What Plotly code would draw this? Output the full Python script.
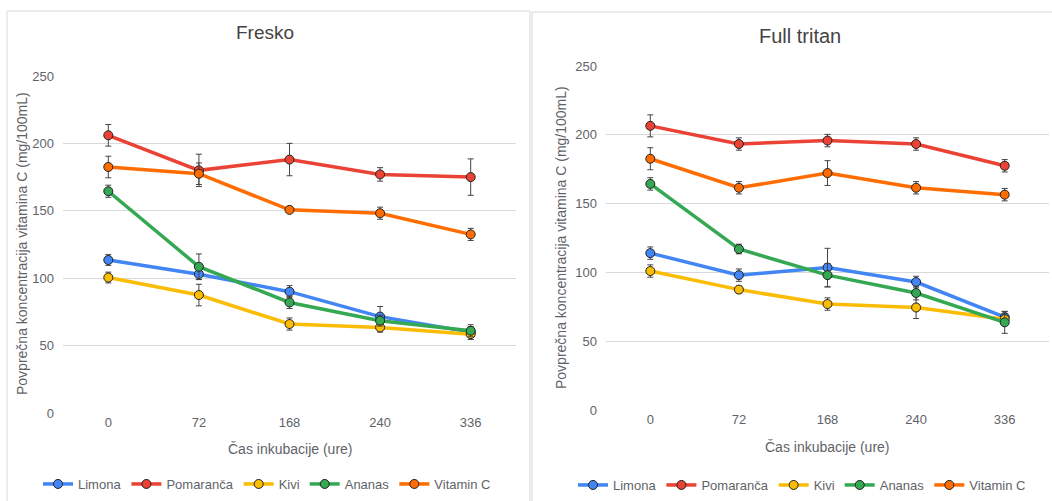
import plotly.graph_objects as go

W, H = 1052, 501

categories = ["0", "72", "168", "240", "336"]
series_names = ["Limona", "Pomaranča", "Kivi", "Ananas", "Vitamin C"]
colors = ["#4285F4", "#EA4335", "#FBBC04", "#34A853", "#FF6D01"]

# Fresko
fresko_limona = [113.5, 103, 90, 71.5, 60]
fresko_pomaranca = [206, 180, 188, 177, 175]
fresko_kivi = [100.5, 87.5, 66, 63.5, 58.5]
fresko_ananas = [164.5, 108.5, 82, 68.5, 61]
fresko_vitc = [182.5, 177.5, 150.7, 148.2, 132.5]
fresko_limona_err = [4, 4, 4.5, 7.5, 4]
fresko_pomaranca_err = [8, 12, 12, 5, 13.5]
fresko_kivi_err = [4, 8, 4.5, 3.5, 4]
fresko_ananas_err = [4.5, 9.5, 4.5, 4, 4.5]
fresko_vitc_err = [8, 8, 2, 4.5, 4.5]

# Full tritan
tritan_limona = [114, 98, 103.5, 93, 67.5]
tritan_pomaranca = [206.5, 193.3, 195.8, 193.3, 177.5]
tritan_kivi = [101, 87.5, 77, 74.5, 66]
tritan_ananas = [164.3, 117, 98, 85, 63.7]
tritan_vitc = [182.6, 161.5, 172.2, 161.5, 156.5]
tritan_limona_err = [4.5, 4.5, 14, 4.2, 4]
tritan_pomaranca_err = [8, 4.5, 4.5, 4.5, 4.5]
tritan_kivi_err = [4.5, 2.5, 4.5, 8, 4]
tritan_ananas_err = [4.5, 3.5, 8.5, 5, 8]
tritan_vitc_err = [8, 4.5, 9, 4.5, 4.5]

y_ticks = [0, 50, 100, 150, 200, 250]

panel_titles = ["Fresko", "Full tritan"]
x_title = "Čas inkubacije (ure)"
y_title = "Povprečna koncentracija vitamina C (mg/100mL)"

fresko = [(fresko_limona, fresko_limona_err), (fresko_pomaranca, fresko_pomaranca_err),
          (fresko_kivi, fresko_kivi_err), (fresko_ananas, fresko_ananas_err),
          (fresko_vitc, fresko_vitc_err)]
tritan = [(tritan_limona, tritan_limona_err), (tritan_pomaranca, tritan_pomaranca_err),
          (tritan_kivi, tritan_kivi_err), (tritan_ananas, tritan_ananas_err),
          (tritan_vitc, tritan_vitc_err)]

FONT = "Liberation Sans, Arial, sans-serif"
TXT = "#5f6368"
GRID = "#d9d9d9"

fig = go.Figure()

for panel, (data, xa, ya, lg) in enumerate([(fresko, "x", "y", "legend"), (tritan, "x2", "y2", "legend2")]):
    for name, color, (vals, errs) in zip(series_names, colors, data):
        fig.add_trace(go.Scatter(
            x=categories, y=vals, name=name, mode="lines+markers",
            xaxis=xa, yaxis=ya, legend=lg,
            line=dict(color=color, width=3.5),
            marker=dict(color=color, size=9, line=dict(color="#222222", width=1)),
            error_y=dict(type="data", array=errs, visible=True, color="#444444", thickness=1, width=3),
        ))

def px2x(p):
    return p / W

def px2y(p):
    return 1 - p / H

axis_common = dict(type="category", range=[-0.5, 4.5], showgrid=False, zeroline=False, showline=False,
                   ticks="", tickfont=dict(family=FONT, size=13, color=TXT))
yaxis_common = dict(range=[0, 250], tickvals=y_ticks, showgrid=True, gridcolor=GRID, gridwidth=1,
                    zeroline=False, showline=False, ticks="", ticklabelstandoff=8,
                    tickfont=dict(family=FONT, size=13, color=TXT))

fig.update_layout(
    width=W, height=H, margin=dict(l=0, r=0, t=0, b=0, autoexpand=False),
    paper_bgcolor="white", plot_bgcolor="white",
    xaxis=dict(domain=[px2x(63), px2x(516)], anchor="y", automargin=False, **axis_common),
    yaxis=dict(domain=[px2y(413), px2y(76)], anchor="x", automargin=False, **yaxis_common),
    xaxis2=dict(domain=[px2x(606), px2x(1049)], anchor="y2", automargin=False, **axis_common),
    yaxis2=dict(domain=[px2y(410), px2y(66)], anchor="x2", automargin=False, **yaxis_common),
    legend=dict(orientation="h", x=px2x(267), xanchor="center", y=px2y(484), yanchor="middle",
                font=dict(family=FONT, size=13, color=TXT), itemwidth=30, bgcolor="rgba(0,0,0,0)"),
    legend2=dict(orientation="h", x=px2x(802), xanchor="center", y=px2y(485), yanchor="middle",
                 font=dict(family=FONT, size=13, color=TXT), itemwidth=30, bgcolor="rgba(0,0,0,0)"),
    showlegend=True,
)

# panel borders
fig.add_shape(type="rect", xref="paper", yref="paper", x0=px2x(7), x1=px2x(530), y0=-0.05, y1=px2y(11),
              line=dict(color=GRID, width=1), fillcolor="rgba(0,0,0,0)", layer="below")
fig.add_shape(type="rect", xref="paper", yref="paper", x0=px2x(532), x1=1.05, y0=-0.05, y1=px2y(12),
              line=dict(color=GRID, width=1), fillcolor="rgba(0,0,0,0)", layer="below")

annotations = [
    dict(text=panel_titles[0], x=px2x(265), y=px2y(33), font=dict(family=FONT, size=19, color="#444444")),
    dict(text=panel_titles[1], x=px2x(800), y=px2y(36), font=dict(family=FONT, size=20, color="#444444")),
    dict(text=x_title, x=px2x(290), y=px2y(449), font=dict(family=FONT, size=14, color=TXT)),
    dict(text=x_title, x=px2x(827), y=px2y(447), font=dict(family=FONT, size=14, color=TXT)),
    dict(text=y_title, x=px2x(22), y=px2y(244), textangle=-90, font=dict(family=FONT, size=14, color=TXT)),
    dict(text=y_title, x=px2x(561), y=px2y(238), textangle=-90, font=dict(family=FONT, size=14, color=TXT)),
]
for a in annotations:
    fig.add_annotation(xref="paper", yref="paper", showarrow=False, xanchor="center", yanchor="middle", **a)

fig.write_html("out.html", config={"displayModeBar": False},
               post_script="document.body.style.margin='0';document.body.style.overflow='hidden';")
